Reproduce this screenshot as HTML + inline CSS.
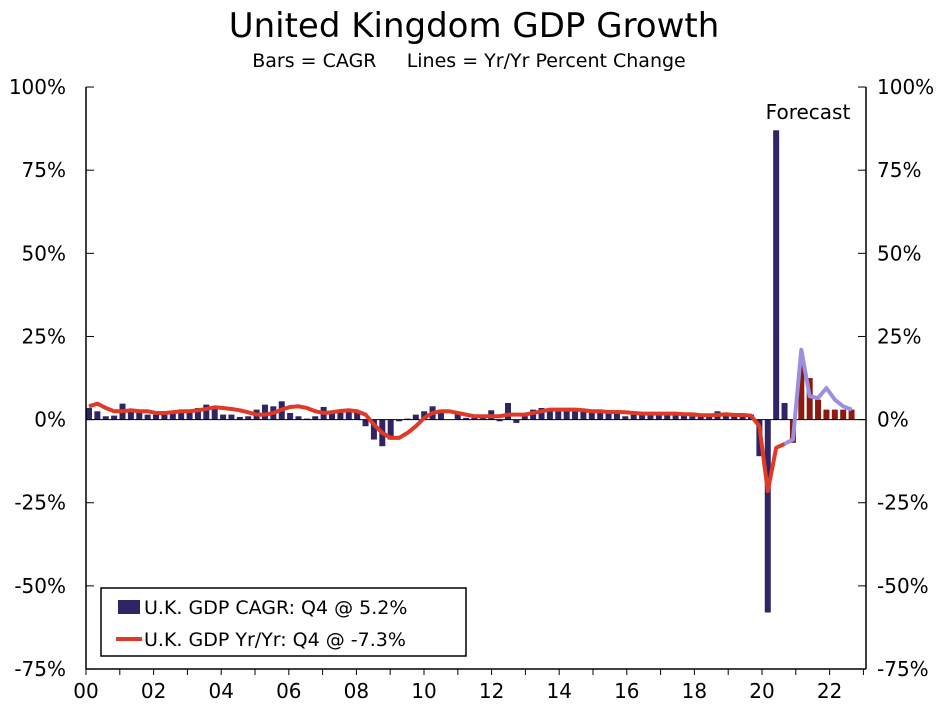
<!DOCTYPE html>
<html><head><meta charset="utf-8"><style>
body{margin:0;background:#fff;width:948px;height:710px;overflow:hidden}
svg text{font-family:"DejaVu Sans","Liberation Sans",sans-serif;fill:#000}
</style></head><body>
<svg id="chart" width="948" height="710" xmlns="http://www.w3.org/2000/svg">
<text x="474" y="37" font-size="34" text-anchor="middle">United Kingdom GDP Growth</text>
<text x="469" y="67" font-size="19" text-anchor="middle" xml:space="preserve">Bars = CAGR     Lines = Yr/Yr Percent Change</text>
<g id="plot"></g>
<text x="808" y="119" font-size="20" text-anchor="middle">Forecast</text>
<g>
<rect x="101" y="588" width="365" height="68" fill="#fff" stroke="#000" stroke-width="1.5"/>
<rect x="118" y="600" width="22" height="14" fill="#2e2466"/>
<text x="144" y="614" font-size="19">U.K. GDP CAGR: Q4 @ 5.2%</text>
<line x1="116" y1="639" x2="142" y2="639" stroke="#e03a26" stroke-width="4"/>
<text x="144" y="646" font-size="19">U.K. GDP Yr/Yr: Q4 @ -7.3%</text>
</g>
</svg>
<script>
const cagr=[3.5,2.5,1,1.2, 4.8,3,2.5,1.5, 1.5,2,2,3, 3,3.5,4.5,4, 1.5,1.5,0.8,1, 3,4.5,4,5.5, 2,1,0.3,1, 3.8,2,2.5,2.5, 2,-2,-6,-8, -6,-0.5,0.3,1.5, 2.5,4,3,0, 2,0.5,0.5,0.5, 2.8,-0.5,5,-1, 1.5,3,3.5,3, 3,3,2.5,2.5, 2.5,2.5,2.5,2.5, 1,1.5,2,1.5, 2,1.5,2,1.5, 1,1,1.5,2.5, 1.5,2,1,1.5, -11,-58,87,5, -7,17,12.5,6, 3,3,3,3];
const yoy=[4,4.8,3.5,2.5, 2.5,2.8,2.5,2.5, 2,2,2.2,2.5, 2.5,2.8,3.2,3.7, 3.5,3.2,2.8,2.2, 1.5,1.5,2,3, 3.8,4,3.5,2.5, 2,2.2,2.6,2.8, 2.5,1.5,-1.5,-4, -5.5,-5.5,-4,-2, 0.5,2,2.5,2.5, 2,1.5,1,1, 1,1,1.5,1.5, 1.5,2,2.5,3, 3,3,3,2.8, 2.5,2.5,2.3,2.3, 2.2,2,1.8,1.8, 1.8,1.8,1.8,1.6, 1.6,1.3,1.3,1.4, 1.6,1.4,1.4,1.2, -2,-21.5,-8.5,-7.3];
const yoyForecast=[-7.3,-6,21,7,6.5,9.5,6,4,3];
const forecastStart=84;
const yTicks=[100,75,50,25,0,-25,-50,-75];
const xLabels=["00","02","04","06","08","10","12","14","16","18","20","22"];
const NS="http://www.w3.org/2000/svg";
const X0=86,X1=866,Q=8.45;
const x=i=>89+i*8.38;
const y=v=>419.6-v*3.3256;
const g=document.getElementById('plot');
function el(t,a){const e=document.createElementNS(NS,t);for(const k in a)e.setAttribute(k,a[k]);g.appendChild(e);return e;}
cagr.forEach((v,i)=>{const r=el('rect',{x:x(i)-3,y:Math.min(y(v),y(0)),width:6,height:Math.abs(y(v)-y(0)),fill:i>=forecastStart?'#8b1a10':'#2e2466'});

});
const z=el('line',{x1:X0,x2:X1,y1:y(0),y2:y(0),stroke:'#000','stroke-width':1});


const p1=el('polyline',{points:yoy.map((v,i)=>x(i)+','+y(v)).join(' '),fill:'none',stroke:'#e03a26','stroke-width':4,'stroke-linejoin':'round'});


const p2=el('polyline',{points:yoyForecast.map((v,i)=>x(i+yoy.length-1)+','+y(v)).join(' '),fill:'none',stroke:'#9b8fe0','stroke-width':4,'stroke-linejoin':'round'});


[[X0,87,X0,669],[X1,87,X1,669],[X0,669,X1,669]].forEach(a=>{const l=el('line',{x1:a[0],y1:a[1],x2:a[2],y2:a[3],stroke:'#000','stroke-width':1.5});

});
yTicks.forEach(t=>{const yy=y(t);
el('line',{x1:X0,x2:X0+8,y1:yy,y2:yy,stroke:'#000'});
el('line',{x1:X1-8,x2:X1,y1:yy,y2:yy,stroke:'#000'});
const a=el('text',{x:X0-20,y:yy+7,'font-size':20,'text-anchor':'end'});a.textContent=t+'%';


const b=el('text',{x:X1+11,y:yy+7,'font-size':20});b.textContent=t+'%';

});
for(let yr=0;yr<=23;yr++){const xx=X0+yr*4*Q;el('line',{x1:xx,x2:xx,y1:669,y2:675,stroke:'#000'});}
xLabels.forEach((s,i)=>{const t=el('text',{x:X0+i*8*Q,y:698,'font-size':20,'text-anchor':'middle'});t.textContent=s;

});
</script>
</body></html>
